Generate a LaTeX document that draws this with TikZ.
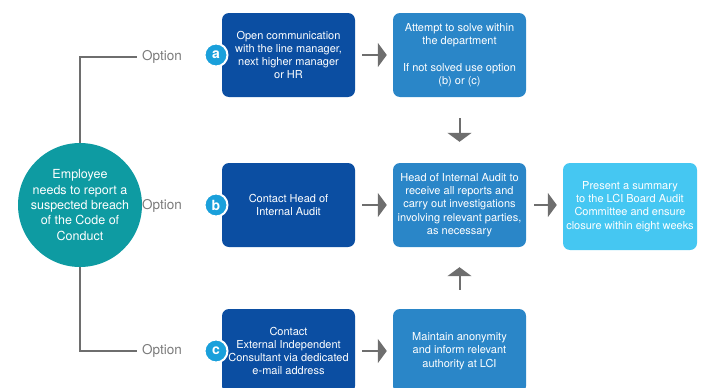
\documentclass[tikz,border=0pt]{standalone}
\usepackage{fontspec}
\setmainfont{TeX Gyre Heros}
\usetikzlibrary{arrows.meta}
\definecolor{darkbox}{HTML}{0B4EA2}
\definecolor{midbox}{HTML}{2A86C8}
\definecolor{lightbox}{HTML}{45C7F2}
\definecolor{tealc}{HTML}{0E9BA2}
\definecolor{badgec}{HTML}{1AA0DB}
\definecolor{linec}{HTML}{6E6E6E}
\definecolor{optc}{HTML}{7A7A7A}
\tikzset{
  box/.style={rounded corners=7pt, minimum width=133pt, minimum height=84pt, inner sep=2pt,
    align=center, text=white, font=\fontsize{11}{13.3}\selectfont},
  dbox/.style={box, fill=darkbox},
  mbox/.style={box, fill=midbox},
  lbox/.style={box, fill=lightbox, minimum width=134pt, minimum height=87pt},
  badge/.style={circle, fill=badgec, draw=white, line width=2pt, minimum size=23pt, inner sep=0pt,
    text=white, font=\fontsize{14}{14}\selectfont\bfseries},
  opt/.style={anchor=west, inner xsep=5pt, inner ysep=2pt, text=optc, font=\fontsize{13.5}{14}\selectfont},
  conn/.style={draw=linec, line width=1.6pt},
  arr/.style={draw=linec, line width=2pt, -{Triangle[width=24pt,length=9pt]}}
}
\begin{document}
\begin{tikzpicture}[x=1pt,y=-1pt]
\useasboundingbox (0,0) rectangle (704,388);
\clip (0,0) rectangle (704,388);

% left circle
\node[circle, fill=tealc, minimum size=124pt, inner sep=0pt, align=center, text=white,
  font=\fontsize{12.5}{15.3}\selectfont] (emp) at (80,205)
  {Employee\\needs to report a\\suspected breach\\of the Code of\\Conduct};

% option labels
\node[opt] (opta) at (137,57) {Option};
\node[opt] (optb) at (137,206) {Option};
\node[opt] (optc) at (137,351) {Option};

% boxes
\node[dbox] (a) at (288.5,55) {Open communication\\with the line manager,\\next higher manager\\or HR};
\node[mbox] (a2) at (459.5,55) {Attempt to solve within\\the department\\[13.3pt]If not solved use option\\(b) or (c)};
\node[dbox] (b) at (288.5,205) {Contact Head of\\Internal Audit};
\node[mbox] (head) at (459.5,205) {Head of Internal Audit to\\receive all reports and\\carry out investigations\\involving relevant parties,\\as necessary};
\node[lbox] (pres) at (630,206.5) {Present a summary\\to the LCI Board Audit\\Committee and ensure\\closure within eight weeks};
\node[dbox] (c) at (288.5,351) {Contact\\External Independent\\Consultant via dedicated\\e-mail address};
\node[mbox] (maint) at (459.5,351) {Maintain anonymity\\and inform relevant\\authority at LCI};

% badges
\node[badge] (ba) at (216,55) {a};
\node[badge] (bb) at (216,205) {b};
\node[badge] (bc) at (216,351) {c};

% connectors from circle
\draw[conn] (emp.north) |- (opta.west);
\draw[conn] (emp.south) |- (optc.west);

% arrows
\draw[arr, shorten <=7pt, shorten >=6pt] (a.east) -- (a2.west);
\draw[arr, shorten <=7pt, shorten >=6pt] (b.east) -- (head.west);
\draw[arr, shorten <=7pt, shorten >=6pt] (c.east) -- (maint.west);
\draw[arr, shorten <=8pt, shorten >=6pt] (head.east) -- (head.east -| pres.west);
\draw[arr, shorten <=21pt, shorten >=21pt] (a2.south) -- (head.north);
\draw[arr, shorten <=19pt, shorten >=20pt] (maint.north) -- (head.south);
\end{tikzpicture}
\end{document}
